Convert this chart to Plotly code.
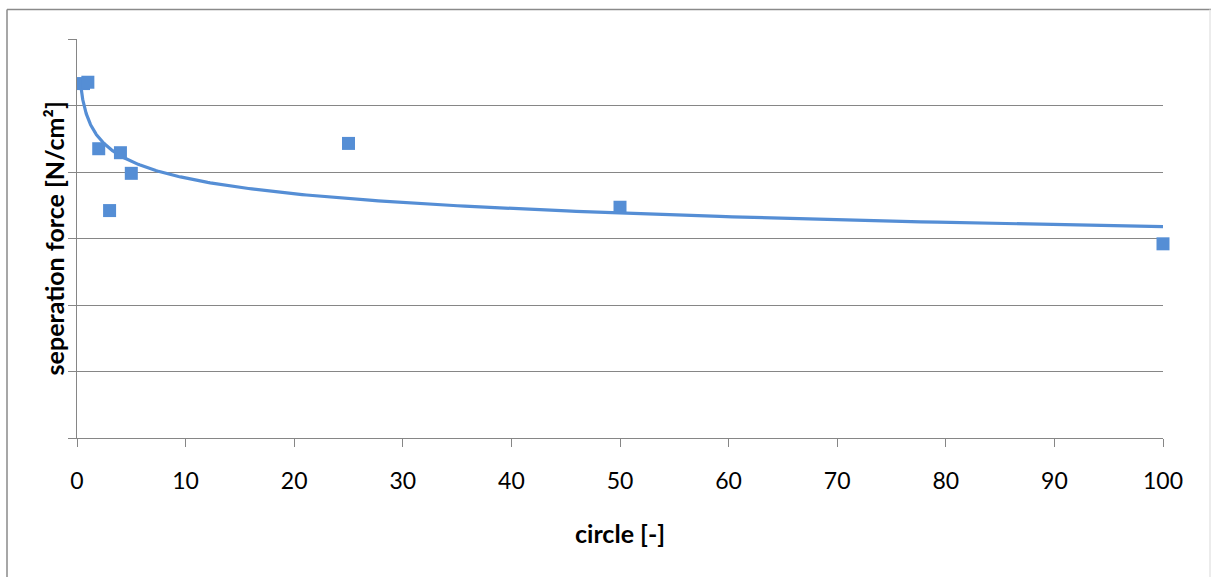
import numpy as np
import plotly.graph_objects as go

# Data
circles = [0.6, 1, 2, 3, 4, 5, 25, 50, 100]
separation_force = [5.33, 5.35, 4.35, 3.42, 4.29, 3.98, 4.43, 3.47, 2.92]

x_ticks = [0, 10, 20, 30, 40, 50, 60, 70, 80, 90, 100]
x_title = "circle [-]"
y_title = "seperation force [N/cm²]"

BLUE = "#558ED5"
GRID = "#868686"
FONT = "Lato"

# Power trendline (as in Excel): ln y = p ln x + ln c
p, lnc = np.polyfit(np.log(circles), np.log(separation_force), 1)
trend_x = np.geomspace(0.3, max(circles), 300)
trend_y = np.exp(lnc) * trend_x ** p

fig = go.Figure()
fig.add_trace(go.Scatter(x=trend_x, y=trend_y, mode="lines",
                         line=dict(color=BLUE, width=3.2), hoverinfo="skip",
                         showlegend=False, cliponaxis=False))
fig.add_trace(go.Scatter(x=circles, y=separation_force, mode="markers",
                         marker=dict(symbol="square", size=13, color=BLUE,
                                     line=dict(width=0)),
                         showlegend=False, cliponaxis=False))

W, H = 1211, 577
L, R, T, B = 77, 48, 38.5, 139.3
pw = W - L - R
ph = H - T - B

def px_to_paper_x(px):
    return (px - L) / pw

def px_to_paper_y(py):
    return (H - B - py) / ph

fig.update_layout(
    width=W, height=H,
    margin=dict(l=L, r=R, t=T, b=B, pad=0),
    paper_bgcolor="white", plot_bgcolor="white",
    font=dict(family=FONT, color="black", size=23),
    xaxis=dict(range=[0, 100], tickvals=x_ticks, ticktext=[str(v) for v in x_ticks],
               showgrid=False, zeroline=False, showline=True, linecolor=GRID,
               linewidth=1.3, ticks="outside", ticklen=8, tickcolor=GRID, tickwidth=1.3,
               ticklabelstandoff=14, tickfont=dict(size=23, family=FONT)),
    yaxis=dict(range=[0, 6], dtick=1, showticklabels=False, showgrid=True,
               gridcolor=GRID, gridwidth=1.3, zeroline=False, showline=True,
               linecolor=GRID, linewidth=1.3, ticks="outside", ticklen=8,
               tickcolor=GRID, tickwidth=1.3),
    showlegend=False,
)

# Axis titles
fig.add_annotation(text="<b>" + x_title + "</b>", xref="paper", yref="paper",
                   x=0.5, y=px_to_paper_y(533), showarrow=False,
                   font=dict(size=25, family=FONT, color="black"),
                   xanchor="center", yanchor="middle")
fig.add_annotation(text="<b>" + y_title + "</b>", xref="paper", yref="paper",
                   x=px_to_paper_x(54), y=px_to_paper_y(238), showarrow=False,
                   textangle=-90, font=dict(size=25, family=FONT, color="black"),
                   xanchor="center", yanchor="middle")

# Outer chart border
fig.add_shape(type="line", xref="paper", yref="paper",
              x0=px_to_paper_x(7), x1=px_to_paper_x(7),
              y0=px_to_paper_y(9), y1=px_to_paper_y(600),
              line=dict(color="#8A8A8A", width=1.5))
fig.add_shape(type="line", xref="paper", yref="paper",
              x0=px_to_paper_x(7), x1=px_to_paper_x(1212),
              y0=px_to_paper_y(9), y1=px_to_paper_y(9),
              line=dict(color="#8A8A8A", width=1.5))
fig.add_shape(type="line", xref="paper", yref="paper",
              x0=px_to_paper_x(1210), x1=px_to_paper_x(1210),
              y0=px_to_paper_y(9), y1=px_to_paper_y(600),
              line=dict(color="#E6E6E6", width=1.5))

fig.write_html("out.html", config={"displayModeBar": False},
               post_script="document.body.style.margin='0';document.body.style.padding='0';")
